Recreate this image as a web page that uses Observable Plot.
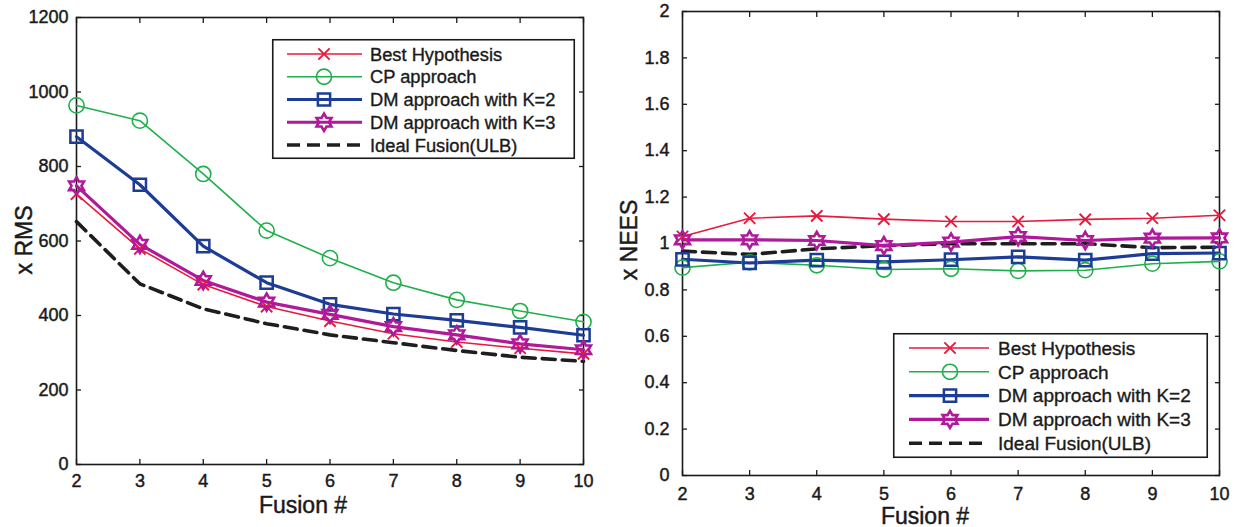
<!DOCTYPE html>
<html><head><meta charset="utf-8">
<script src="https://cdn.jsdelivr.net/npm/d3@7"></script>
<script src="https://cdn.jsdelivr.net/npm/@observablehq/plot@0.6"></script>
<style>
body{margin:0;background:#fff;font-family:"Liberation Sans",Arial,sans-serif;}
#wrap{position:relative;width:1234px;height:527px;overflow:hidden;background:#fff;}
.panel{position:absolute;top:0;}
.lab{position:absolute;font-size:23px;color:#1a1a1a;white-space:nowrap;line-height:1;transform:translate(-50%,-50%);-webkit-text-stroke:0.45px #1a1a1a;}
.rot{transform:translate(-50%,-50%) rotate(-90deg);}
.leg{position:absolute;overflow:visible;}
</style></head><body><div id="wrap"></div>
<script>
// ---- data ----
const fusion = [2, 3, 4, 5, 6, 7, 8, 9, 10];
const seriesNames = ["Best Hypothesis", "CP approach", "DM approach with K=2", "DM approach with K=3", "Ideal Fusion(ULB)"];

const rmsTicks = [0, 200, 400, 600, 800, 1000, 1200];
const rmsBest  = [726, 579, 483, 424, 385, 351, 329, 312, 297];
const rmsCP    = [964, 923, 780, 628, 554, 488, 442, 412, 383];
const rmsDM2   = [880, 751, 586, 488, 430, 404, 387, 368, 347];
const rmsDM3   = [748, 591, 494, 436, 403, 370, 348, 324, 308];
const rmsIdeal = [652, 485, 418, 378, 348, 327, 306, 288, 277];

const neesTicks = [0, 0.2, 0.4, 0.6, 0.8, 1, 1.2, 1.4, 1.6, 1.8, 2];
const neesBest  = [1.030, 1.109, 1.119, 1.105, 1.095, 1.095, 1.104, 1.109, 1.122];
const neesCP    = [0.896, 0.919, 0.906, 0.888, 0.891, 0.882, 0.885, 0.913, 0.923];
const neesDM2   = [0.932, 0.916, 0.928, 0.921, 0.930, 0.942, 0.928, 0.956, 0.959];
const neesDM3   = [1.016, 1.016, 1.013, 0.991, 1.006, 1.030, 1.013, 1.023, 1.024];
const neesIdeal = [0.967, 0.953, 0.977, 0.991, 0.999, 0.999, 0.999, 0.982, 0.984];

// ---- styles ----
const hexagram = {
  draw(ctx, size) {
    const R = Math.sqrt(size / Math.PI), ri = R / Math.sqrt(3);
    for (let k = 0; k < 12; k++) {
      const a = (-90 + k * 30) * Math.PI / 180, rr = k % 2 ? ri : R;
      const px = rr * Math.cos(a), py = rr * Math.sin(a);
      k ? ctx.lineTo(px, py) : ctx.moveTo(px, py);
    }
    ctx.closePath();
  }
};
const styles = [
  {color: "#e8193c", width: 1.6, symbol: "times", r: 5.2, sw: 1.9, d3sym: d3.symbolTimes},
  {color: "#1fb04b", width: 1.6, symbol: "circle", r: 7.6, sw: 1.6, d3sym: d3.symbolCircle},
  {color: "#1c3c96", width: 3.2, symbol: "square", r: 6.9, sw: 2.5, d3sym: d3.symbolSquare},
  {color: "#b0199a", width: 3.2, symbol: hexagram, r: 8.6, sw: 2.6, d3sym: hexagram},
  {color: "#1e1e1e", width: 3.6, symbol: null, dash: "13,7"}
];
const rmsVals = [rmsBest, rmsCP, rmsDM2, rmsDM3, rmsIdeal];
const neesVals = [neesBest, neesCP, neesDM2, neesDM3, neesIdeal];

function rowsOf(vals) {
  return vals.map((arr, si) => arr.map((v, i) => ({x: fusion[i], y: v, s: seriesNames[si]})));
}

function panel(o) {
  const rows = rowsOf(o.vals);
  const lineMarks = [], dotMarks = [];
  const order = [4, 0, 1, 2, 3];
  for (const si of order) {
    const st = styles[si];
    lineMarks.push(Plot.line(rows[si], {x: "x", y: "y", stroke: st.color, strokeWidth: st.width,
      strokeDasharray: st.dash, strokeLinejoin: "round"}));
    if (st.symbol) dotMarks.push(Plot.dot(rows[si], {x: "x", y: "y", symbol: st.symbol, r: st.r,
      stroke: st.color, strokeWidth: st.sw, fill: "none"}));
  }
  const ink = "#1a1a1a";
  const txt = {fontSize: o.fs, label: null, fill: ink, textStroke: ink, textStrokeWidth: 0.45};
  return Plot.plot({
    width: o.width, height: 527,
    marginLeft: o.mL, marginRight: o.mR, marginTop: o.mT, marginBottom: o.mB,
    style: {fontFamily: "Liberation Sans, Arial, sans-serif", color: ink, background: "transparent", overflow: "visible"},
    x: {domain: [2, 10], label: null},
    y: {domain: o.yDomain, label: null},
    marks: [
      Plot.frame({stroke: ink, strokeWidth: 1.6}),
      Plot.axisY(o.yTicks, {anchor: "left", tickSize: 5, dx: 5, fill: "none", label: null, stroke: ink, strokeWidth: 1.3}),
      Plot.axisY(o.yTicks, {anchor: "right", tickSize: 5, dx: -5, fill: "none", label: null, stroke: ink, strokeWidth: 1.3}),
      Plot.axisX(fusion, {anchor: "bottom", tickSize: 5, dy: -5, fill: "none", label: null, stroke: ink, strokeWidth: 1.3}),
      Plot.axisX(fusion, {anchor: "top", tickSize: 5, dy: 5, fill: "none", label: null, stroke: ink, strokeWidth: 1.3}),
      Plot.axisY(o.yTicks, {anchor: "left", tickSize: 0, tickPadding: o.yPad, tickFormat: o.yFmt, ...txt}),
      Plot.axisX(fusion, {anchor: "bottom", tickSize: 0, tickPadding: o.xPad, tickFormat: d => String(d), ...txt}),
      ...lineMarks,
      ...dotMarks
    ]
  });
}

const wrap = document.getElementById("wrap");

const left = panel({vals: rmsVals, yDomain: [0, 1200], yTicks: rmsTicks, yFmt: d => String(d),
  width: 600, mL: 76, mR: 17, mT: 17, mB: 63, yPad: 8, xPad: 10, fs: 18});
left.classList.add("panel"); left.style.left = "0px";
wrap.appendChild(left);

const right = panel({vals: neesVals, yDomain: [0, 2], yTicks: neesTicks, yFmt: d => String(+d.toFixed(1)),
  width: 634, mL: 82, mR: 15, mT: 11, mB: 52, yPad: 13, xPad: 12, fs: 18});
right.classList.add("panel"); right.style.left = "600px";
wrap.appendChild(right);

// axis titles
function label(text, x, y, rot) {
  const d = document.createElement("div");
  d.className = "lab" + (rot ? " rot" : "");
  d.textContent = text;
  d.style.left = x + "px"; d.style.top = y + "px";
  wrap.appendChild(d);
}
label("x RMS", 24, 240, true);
label("Fusion #", 303, 505, false);
label("x NEES", 629, 240, true);
label("Fusion #", 925, 516, false);

// legends
function legend(o) {
  const svg = d3.select(wrap).append("svg").attr("class", "leg")
    .style("left", o.left + "px").style("top", o.top + "px")
    .attr("width", o.w).attr("height", o.h);
  svg.append("rect").attr("x", 0.75).attr("y", 0.75).attr("width", o.w - 1.5).attr("height", o.h - 1.5)
    .attr("fill", "#fff").attr("stroke", "#1a1a1a").attr("stroke-width", 1.6);
  seriesNames.forEach((name, i) => {
    const st = styles[i], y = o.y0 + i * o.dy;
    svg.append("line").attr("x1", o.x1).attr("x2", o.x2).attr("y1", y).attr("y2", y)
      .attr("stroke", st.color).attr("stroke-width", st.width)
      .attr("stroke-dasharray", st.dash || null);
    if (st.d3sym) {
      svg.append("path").attr("transform", `translate(${o.xm},${y})`)
        .attr("d", d3.symbol().type(st.d3sym).size(Math.PI * st.r * st.r)())
        .attr("fill", "none").attr("stroke", st.color).attr("stroke-width", st.sw);
    }
    svg.append("text").attr("x", o.xt).attr("y", y).attr("dy", "0.36em")
      .attr("font-family", "Liberation Sans, Arial, sans-serif").attr("font-size", o.fs)
      .attr("fill", "#1a1a1a").attr("stroke", "#1a1a1a").attr("stroke-width", 0.35).text(name);
  });
}
legend({left: 272, top: 39, w: 303, h: 120, y0: 15, dy: 22.75, x1: 15, x2: 90, xm: 52, xt: 98, fs: 18.3});
legend({left: 893, top: 333, w: 315, h: 125, y0: 15, dy: 23.8, x1: 16, x2: 96, xm: 57, xt: 105, fs: 19});
</script>
</body></html>
